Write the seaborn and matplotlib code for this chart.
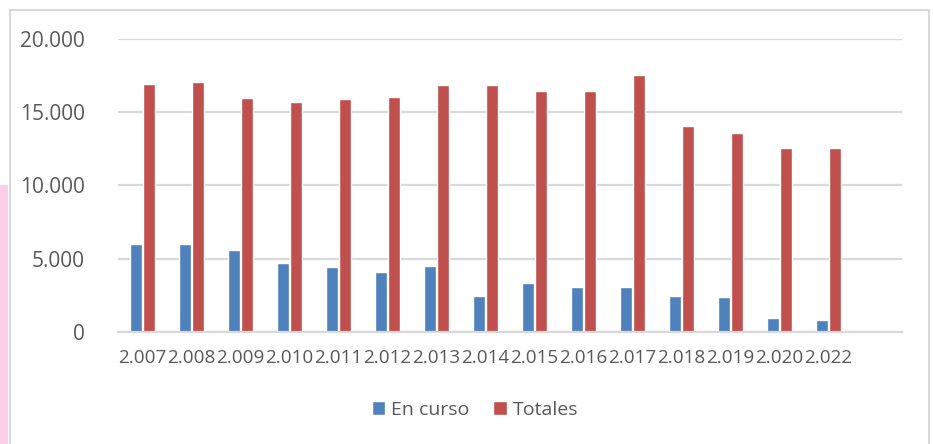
import matplotlib
matplotlib.use("Agg")
import matplotlib.pyplot as plt
import matplotlib.patches as mpatches
from matplotlib.ticker import FuncFormatter
import pandas as pd
import seaborn as sns

# data
years = ["2.007", "2.008", "2.009", "2.010", "2.011", "2.012", "2.013", "2.014",
         "2.015", "2.016", "2.017", "2.018", "2.019", "2.020", "2.022"]
en_curso = [6020, 6020, 5590, 4700, 4430, 4110, 4480, 2480,
            3320, 3070, 3050, 2450, 2360, 950, 800]
totales = [16950, 17050, 16000, 15730, 15930, 16020, 16840, 16840,
           16430, 16480, 17520, 14090, 13570, 12590, 12590]
# the original chart keeps one empty slot at the right
order = years + [" "]

df = pd.DataFrame({"year": years, "En curso": en_curso, "Totales": totales})
df = df.melt(id_vars="year", var_name="serie", value_name="valor")

sns.set_style("white")
plt.rcParams["font.family"] = ["Open Sans", "DejaVu Sans"]

grey = "#595959"
fig = plt.figure(figsize=(9.33, 4.44), dpi=100)
ax = fig.add_axes([0.1265, 0.2523, 0.8403, 0.6599])

sns.barplot(data=df, x="year", y="valor", hue="serie", order=order,
            palette={"En curso": "#4F81BD", "Totales": "#C0504D"},
            width=0.53, gap=0.1, ax=ax, saturation=1)

ax.set_ylim(0, 20000)
ax.set_xlim(-0.5, len(order) - 0.5)
ax.set_yticks([0, 5000, 10000, 15000, 20000])
ax.yaxis.set_major_formatter(FuncFormatter(lambda v, p: f"{int(v):,}".replace(",", ".")))
ax.grid(axis="y", color="#d9d9d9", lw=1.6)
ax.set_axisbelow(True)
for s in ["top", "right", "left"]:
    ax.spines[s].set_visible(False)
ax.spines["bottom"].set_color("#d9d9d9")
ax.spines["bottom"].set_linewidth(1.6)
ax.set_xlabel("")
ax.set_ylabel("")
ax.tick_params(axis="y", length=0, pad=24, labelsize=15, labelcolor=grey)
ax.tick_params(axis="x", length=0, pad=12, labelsize=13.6, labelcolor=grey)

ax.legend(loc="center", bbox_to_anchor=(0.509, 0.0766), bbox_transform=fig.transFigure,
          ncol=2, frameon=False, fontsize=14, labelcolor=grey,
          handlelength=0.7, handleheight=0.7, handletextpad=0.3, columnspacing=1.2)

# chart border and the pink page edge on the left
fig.patches.append(mpatches.Rectangle((10 / 933, -0.05), 919 / 933, 1.05 - 10 / 444,
                                      transform=fig.transFigure, fill=False,
                                      edgecolor="#d9d9d9", lw=1.5))
fig.patches.append(mpatches.Rectangle((0, 0), 8 / 933, 1 - 185 / 444,
                                      transform=fig.transFigure, color="#fdcfe6", lw=0))

fig.savefig("out.png", dpi=100)
